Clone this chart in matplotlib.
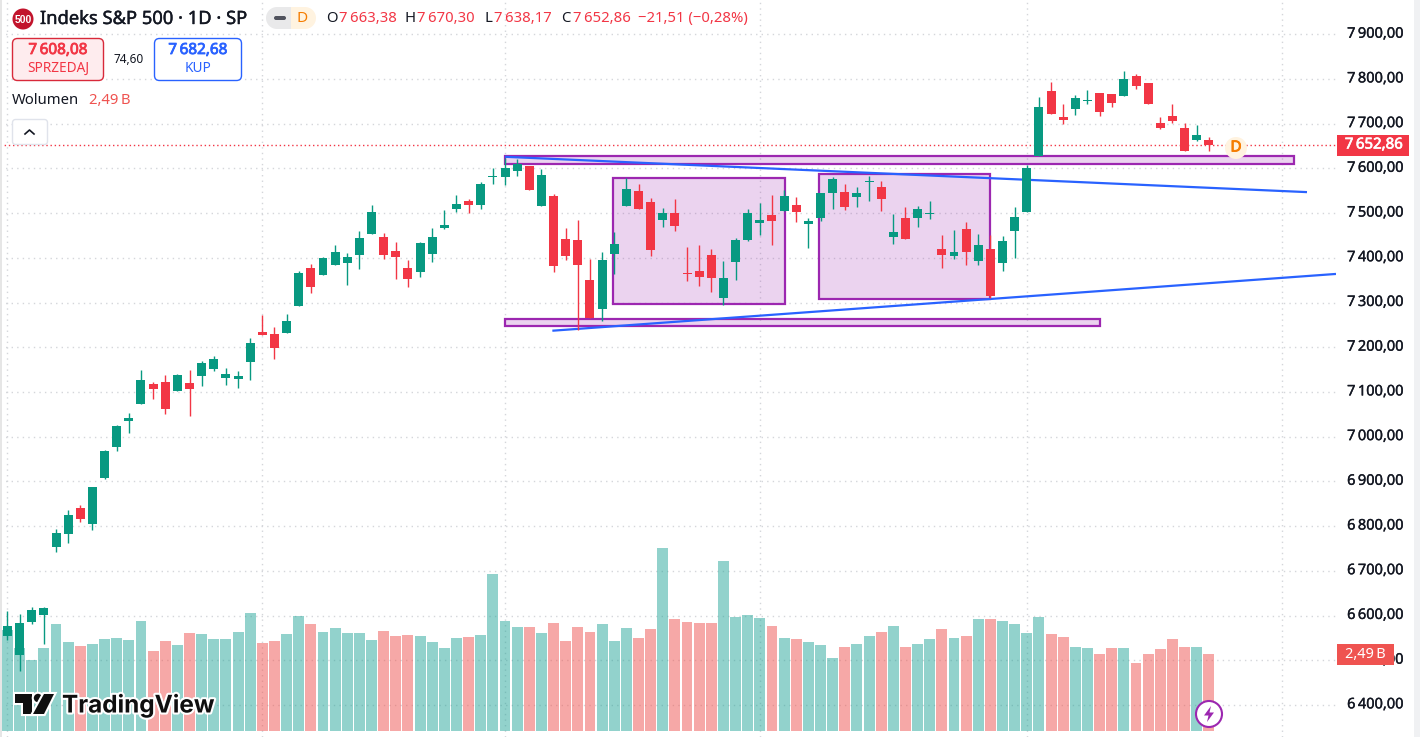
import matplotlib
matplotlib.use("Agg")
import matplotlib.pyplot as plt
import matplotlib.patheffects as pe
from matplotlib.patches import Circle, FancyBboxPatch, Polygon, Rectangle
from matplotlib.transforms import ScaledTranslation

plt.rcParams["font.family"] = ["Noto Sans", "DejaVu Sans"]

# daily candles
opens = [6554, 6512, 6586, 6601, 6754, 6783, 6841, 6805, 6908, 6977,
         7035, 7073, 7118, 7123, 7102, 7120, 7136, 7152, 7132, 7129,
         7167, 7234, 7230, 7232, 7293, 7378, 7362, 7384, 7389, 7407,
         7454, 7447, 7416, 7378, 7369, 7409, 7467, 7510, 7527, 7518,
         7580, 7581, 7594, 7606, 7516, 7538, 7442, 7440, 7351, 7286,
         7409, 7516, 7549, 7525, 7485, 7501, 7366, 7371, 7407, 7311,
         7391, 7440, 7478, 7496, 7505, 7518, 7476, 7489, 7545, 7547,
         7536, 7570, 7558, 7447, 7489, 7489, 7498, 7420, 7404, 7465,
         7393, 7420, 7389, 7460, 7503, 7628, 7773, 7715, 7733, 7751,
         7769, 7766, 7762, 7807, 7791, 7702, 7717, 7690, 7663, 7663.38]
highs = [6610, 6604, 6619, 6619, 6794, 6836, 6848, 6888, 6971, 7026,
         7053, 7149, 7123, 7138, 7141, 7149, 7170, 7181, 7154, 7147,
         7221, 7272, 7246, 7275, 7371, 7387, 7402, 7429, 7411, 7460,
         7518, 7456, 7436, 7396, 7436, 7467, 7507, 7541, 7532, 7570,
         7601, 7623, 7621, 7606, 7599, 7543, 7467, 7485, 7398, 7413,
         7458, 7579, 7565, 7534, 7512, 7532, 7425, 7429, 7420, 7393,
         7445, 7510, 7523, 7541, 7552, 7536, 7489, 7545, 7581, 7565,
         7558, 7583, 7572, 7498, 7514, 7516, 7527, 7451, 7463, 7480,
         7454, 7451, 7449, 7514, 7608, 7760, 7793, 7744, 7764, 7775,
         7769, 7766, 7818, 7811, 7791, 7715, 7744, 7702, 7697, 7670.30]
lows = [6545, 6476, 6581, 6537, 6742, 6763, 6810, 6792, 6906, 6968,
        7009, 7073, 7085, 7051, 7102, 7047, 7114, 7147, 7116, 7109,
        7127, 7228, 7174, 7232, 7293, 7322, 7362, 7384, 7340, 7375,
        7454, 7398, 7353, 7335, 7357, 7391, 7465, 7503, 7501, 7510,
        7565, 7563, 7583, 7552, 7516, 7369, 7396, 7239, 7266, 7259,
        7364, 7516, 7510, 7404, 7469, 7460, 7349, 7337, 7324, 7295,
        7351, 7438, 7451, 7429, 7505, 7480, 7422, 7483, 7510, 7507,
        7514, 7527, 7505, 7431, 7442, 7469, 7487, 7378, 7398, 7384,
        7384, 7311, 7371, 7400, 7503, 7628, 7722, 7699, 7719, 7744,
        7717, 7737, 7762, 7778, 7744, 7688, 7702, 7639, 7661, 7638.17]
closes = [6577, 6584, 6613, 6617, 6785, 6825, 6816, 6888, 6968, 7024,
          7042, 7127, 7107, 7062, 7138, 7107, 7165, 7174, 7141, 7136,
          7210, 7228, 7199, 7259, 7366, 7335, 7400, 7413, 7402, 7445,
          7503, 7407, 7402, 7353, 7434, 7447, 7474, 7521, 7518, 7565,
          7581, 7601, 7610, 7552, 7585, 7382, 7404, 7384, 7266, 7396,
          7431, 7554, 7510, 7418, 7501, 7472, 7364, 7357, 7355, 7355,
          7440, 7501, 7485, 7483, 7538, 7503, 7483, 7545, 7576, 7514,
          7545, 7572, 7532, 7458, 7442, 7510, 7501, 7407, 7413, 7413,
          7429, 7315, 7438, 7492, 7601, 7737, 7722, 7708, 7757, 7753,
          7726, 7746, 7800, 7784, 7744, 7690, 7706, 7639, 7675, 7652.86]
# volume in billions
volumes = [3.27, 2.68, 2.30, 2.68, 3.46, 2.88, 2.75, 2.81, 2.98, 3.01,
           2.94, 3.56, 2.59, 2.91, 2.78, 3.17, 3.14, 2.98, 2.98, 3.20,
           3.82, 2.85, 2.91, 3.14, 3.72, 3.46, 3.20, 3.33, 3.17, 3.17,
           2.94, 3.23, 3.07, 3.10, 3.07, 2.88, 2.68, 3.01, 3.04, 3.10,
           5.08, 3.56, 3.36, 3.36, 3.17, 3.49, 2.91, 3.36, 3.20, 3.46,
           2.91, 3.33, 3.01, 3.30, 5.92, 3.62, 3.53, 3.49, 3.49, 5.50,
           3.69, 3.75, 3.65, 3.40, 3.01, 2.98, 2.88, 2.78, 2.36, 2.72,
           2.81, 3.07, 3.20, 3.40, 2.72, 2.81, 2.98, 3.30, 3.01, 3.07,
           3.62, 3.62, 3.56, 3.46, 3.17, 3.69, 3.14, 3.04, 2.72, 2.68,
           2.49, 2.68, 2.68, 2.20, 2.49, 2.65, 2.98, 2.72, 2.72, 2.49]

price_ticks = [7900, 7800, 7700, 7600, 7500, 7400, 7300, 7200, 7100, 7000,
               6900, 6800, 6700, 6600, 6500, 6400]
month_ticks = [0, 21, 41, 62, 84, 105]
last_price = 7652.86

# drawings on the chart: (index from, index to, price low, price high)
zones = [(41, 106, 7610, 7628),
         (41, 90, 7248, 7263),
         (49.9, 64.05, 7297, 7579),
         (66.9, 80.96, 7308, 7588)]
# trend lines: (index from, price from, index to, price to)
trends = [(41, 7626, 107.09, 7547),
          (44.9, 7237, 109.48, 7364)]

UP = "#089981"
DOWN = "#F23645"
VOL_UP = "#26A69A"
VOL_DOWN = "#EF5350"
PURPLE = "#9C27B0"
BLUE = "#2962FF"
TEXT = "#131722"


# Noto Sans comes without a bold cut here, a thin outline does the job
def heavy(col, w=0.6):
    return [pe.withStroke(linewidth=w, foreground=col)]


fig = plt.figure(figsize=(14.2, 7.37), dpi=100, facecolor="white")
rect = [0, 0, 1336 / 1420, 1]
ax = fig.add_axes(rect, zorder=0)
ax_vol = fig.add_axes(rect, zorder=1)
ax_c = fig.add_axes(rect, zorder=2)

xlim = (-0.618, 109.48)
ylim = (6328.3, 7976.7)
for a in (ax, ax_vol, ax_c):
    a.set_xlim(xlim)
    for s in a.spines.values():
        s.set_visible(False)
ax.set_ylim(ylim)
ax_c.set_ylim(ylim)
ax_vol.set_ylim(-0.194, 23.64)
for a in (ax_vol, ax_c):
    a.patch.set_visible(False)
    a.set_xticks([])
    a.set_yticks([])

# price scale and grid
labels = [f"{p // 1000}\u2009{p % 1000:03d},00" for p in price_ticks]
ax.yaxis.tick_right()
ax.set_yticks(price_ticks)
ax.set_yticklabels(labels, fontsize=10.5, color=TEXT)
ax.set_xticks(month_ticks)
ax.set_xticklabels([])
ax.tick_params(length=0, pad=8)
lift = ScaledTranslation(0, 1.5 / 72, fig.dpi_scale_trans)
for t in ax.get_yticklabels():
    t.set_transform(t.get_transform() + lift)
    t.set_path_effects(heavy(TEXT, 0.25))
ax.grid(True, color="#D4D6DA", lw=1, linestyle=(0, (1, 3)))
ax.set_axisbelow(True)

days = list(range(len(closes)))
colors = [UP if c >= o else DOWN for o, c in zip(opens, closes)]
vol_colors = [VOL_UP if c >= o else VOL_DOWN for o, c in zip(opens, closes)]

ax_vol.bar(days, volumes, width=0.9, color=vol_colors, alpha=0.5, linewidth=0)

ax_c.axhline(last_price, color=DOWN, lw=1, linestyle=(0, (1, 2)), zorder=1)

for x0, x1, p0, p1 in zones:
    ax_c.add_patch(Rectangle((x0, p0), x1 - x0, p1 - p0, facecolor=(0.612, 0.153, 0.69, 0.2),
                             edgecolor=PURPLE, lw=1.6, zorder=2))
for x0, p0, x1, p1 in trends:
    ax_c.plot([x0, x1], [p0, p1], color=BLUE, lw=1.6, zorder=2.5, solid_capstyle="butt")

# candles sit on top of the drawings
ax_c.vlines(days, lows, highs, colors=colors, lw=1.0, zorder=3)
body_low = [min(o, c) for o, c in zip(opens, closes)]
body_h = [max(abs(c - o), 2) for o, c in zip(opens, closes)]
ax_c.bar(days, body_h, bottom=body_low, width=0.74, color=colors, linewidth=0, zorder=4)

# everything around the chart, in screen pixels
ui = fig.add_axes([0, 0, 1, 1], zorder=3)
ui.set_xlim(0, 1420)
ui.set_ylim(737, 0)
ui.axis("off")

ui.add_patch(Rectangle((0, 0), 1.5, 737, color="#E6E6E6", lw=0))
ui.add_patch(Rectangle((1414, 0), 6, 737, color="#F0F1F3", lw=0))

ui.add_patch(Circle((23, 19), 10.5, color="#C2142C", lw=0))
ui.text(23, 19.5, "500", color="white", fontsize=7.5, fontweight="bold", ha="center", va="center",
        family=["Liberation Sans", "DejaVu Sans"])
ui.text(40, 19, "Indeks S&P 500 · 1D · SP", color=TEXT, fontsize=13.2, ha="left", va="center",
        path_effects=heavy(TEXT, 0.3))

ui.add_patch(FancyBboxPatch((277, 7), 28, 22, boxstyle="round,pad=0,rounding_size=0", color="#E9E9EA", lw=0))
ui.add_patch(Circle((277, 18), 11, color="#E9E9EA", lw=0))
ui.add_patch(Circle((305, 18), 11, color="#FFF3E0", lw=0))
ui.add_patch(Rectangle((291, 7), 14, 22, color="#FFF3E0", lw=0))
ui.add_patch(FancyBboxPatch((274, 16), 12, 4, boxstyle="round,pad=0,rounding_size=2", color="#50535E", lw=0))
ui.text(302.5, 18, "D", color="#F57C00", fontsize=11, ha="center", va="center")

ohlc = [(326, "O", TEXT), (339, "7\u2009663,38", DOWN), (405, "H", TEXT), (417, "7\u2009670,30", DOWN),
        (485, "L", TEXT), (494, "7\u2009638,17", DOWN), (561, "C", TEXT), (573, "7\u2009652,86", DOWN),
        (638, "\u221221,51 (\u22120,28%)", DOWN)]
for x, s, col in ohlc:
    ui.text(x, 18.5, s, color=col, fontsize=10.7, ha="left", va="center")

ui.add_patch(FancyBboxPatch((12.5, 38.5), 91, 42, boxstyle="round,pad=0,rounding_size=5",
                            facecolor="#FEECEE", edgecolor="#D8293A", lw=1))
ui.text(58, 50.5, "7\u2009608,08", color=DOWN, fontsize=11, ha="center", va="center", path_effects=heavy(DOWN))
ui.text(58, 68, "SPRZEDAJ", color=DOWN, fontsize=9.8, ha="center", va="center")
ui.text(129, 59, "74,60", color=TEXT, fontsize=8.5, ha="center", va="center")
ui.add_patch(FancyBboxPatch((154.5, 38.5), 87, 42, boxstyle="round,pad=0,rounding_size=5",
                            facecolor="white", edgecolor=BLUE, lw=1))
ui.text(198, 50.5, "7\u2009682,68", color=BLUE, fontsize=11, ha="center", va="center", path_effects=heavy(BLUE))
ui.text(198, 68, "KUP", color=BLUE, fontsize=9.8, ha="center", va="center")

ui.text(12, 100.5, "Wolumen", color=TEXT, fontsize=10.7, ha="left", va="center")
ui.text(89, 100.5, "2,49\u2009B", color=VOL_DOWN, fontsize=10.7, ha="left", va="center")

ui.add_patch(FancyBboxPatch((12.5, 119.5), 35, 25, boxstyle="round,pad=0,rounding_size=3",
                            facecolor="white", edgecolor="#E0E3EB", lw=1))
ui.plot([25, 29.5, 34], [134, 130, 134], color=TEXT, lw=1.2)

# badge on the last candle
ui.add_patch(Circle((1236, 148), 11, color="#FFF3E0", lw=0))
ui.text(1236, 148, "D", color="#F57C00", fontsize=11, ha="center", va="center", path_effects=heavy("#F57C00"))

# value boxes on the price scale
ui.add_patch(Rectangle((1337, 135), 72, 21, color=DOWN, lw=0))
ui.text(1374, 145, "7\u2009652,86", color="white", fontsize=10.8, ha="center", va="center",
        path_effects=heavy("white", 0.5))
ui.add_patch(Rectangle((1337, 644), 57, 21, color=VOL_DOWN, lw=0))
ui.text(1365.5, 654, "2,49\u2009B", color="white", fontsize=10.5, ha="center", va="center")

# lightning button
ui.add_patch(Circle((1209, 714), 13, facecolor="white", edgecolor=PURPLE, lw=1.5))
ui.add_patch(Polygon([(1211, 706), (1204, 715.5), (1208.5, 715.5), (1207, 722), (1214, 712.5), (1209.5, 712.5)],
                     color=PURPLE, lw=0))

# TradingView logo
halo = [pe.withStroke(linewidth=3, foreground="white")]
shapes = [Polygon([(15, 694), (32, 694), (32, 714), (23, 714), (23, 703), (15, 703)], color="#0F0F0F", lw=0),
          Circle((38, 698), 4.2, color="#0F0F0F", lw=0),
          Polygon([(44, 694), (54, 694), (44, 714), (33, 714)], color="#0F0F0F", lw=0)]
for s in shapes:
    s.set_path_effects(halo)
    ui.add_patch(s)
ui.text(62, 705, "TradingView", color="#0F0F0F", fontsize=17.5, fontweight="bold", ha="left", va="center",
        family=["Inter", "DejaVu Sans"], path_effects=halo)

fig.savefig("out.png", dpi=100)
